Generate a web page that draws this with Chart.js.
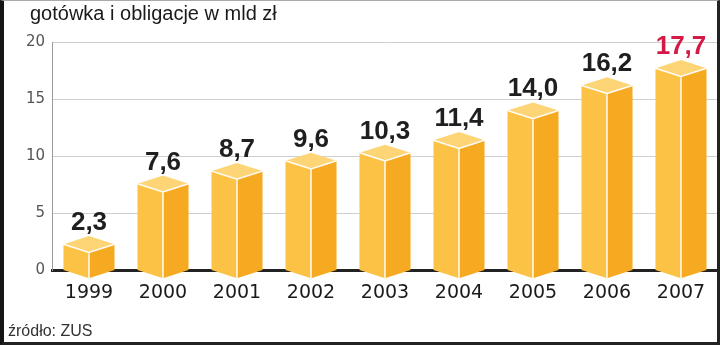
<!DOCTYPE html>
<html>
<head>
<meta charset="utf-8">
<script src="https://cdn.jsdelivr.net/npm/chart.js@4/dist/chart.umd.min.js"></script>
<style>
  html, body { margin: 0; padding: 0; background: #fff; }
  #wrap { position: relative; width: 720px; height: 345px; overflow: hidden; background: #fff; }
  #c { position: absolute; left: 0; top: 0; }
  #title { position: absolute; left: 30px; top: 2px; font: 20px "Liberation Sans", Arial, sans-serif; line-height: 22px; color: #1a1a1a; white-space: nowrap; }
  #source { position: absolute; left: 8px; top: 323px; font: 16px "Liberation Sans", Arial, sans-serif; line-height: 16px; color: #333; white-space: nowrap; }
  #frame { position: absolute; left: 0; top: 0; width: 720px; height: 345px; box-sizing: border-box;
    border-left: 4px solid #151515; border-right: 3px solid #222; border-bottom: 3px solid #222; border-top: 1px solid #aaa; pointer-events: none; }
</style>
</head>
<body>
<div id="wrap">
  <canvas id="c" width="720" height="345"></canvas>
  <div id="title">gotówka i obligacje w mld zł</div>
  <div id="source">źródło: ZUS</div>
  <div id="frame"></div>
</div>
<script>
const categories = ['1999', '2000', '2001', '2002', '2003', '2004', '2005', '2006', '2007'];
const values = [2.3, 7.6, 8.7, 9.6, 10.3, 11.4, 14.0, 16.2, 17.7];
const valueLabels = ['2,3', '7,6', '8,7', '9,6', '10,3', '11,4', '14,0', '16,2', '17,7'];
const yTicks = [0, 5, 10, 15, 20];
const highlightIndex = 8;

const box3d = {
  id: 'box3d',
  afterDatasetsDraw(chart) {
    const ctx = chart.ctx;
    const meta = chart.getDatasetMeta(0);
    ctx.save();
    meta.data.forEach((bar, i) => {
      const p = bar.getProps(['x', 'y', 'base', 'width'], true);
      const cx = p.x, vy = p.y, base = p.base, w = p.width;
      const x0 = cx - w / 2, x1 = cx + w / 2, d = w * 0.16;
      // left face
      ctx.beginPath();
      ctx.moveTo(x0, vy); ctx.lineTo(cx, vy + d); ctx.lineTo(cx, base + d); ctx.lineTo(x0, base); ctx.closePath();
      ctx.fillStyle = '#fbc245'; ctx.fill();
      // right face
      ctx.beginPath();
      ctx.moveTo(cx, vy + d); ctx.lineTo(x1, vy); ctx.lineTo(x1, base); ctx.lineTo(cx, base + d); ctx.closePath();
      ctx.fillStyle = '#f6aa22'; ctx.fill();
      // top face
      ctx.beginPath();
      ctx.moveTo(x0, vy); ctx.lineTo(cx, vy - d); ctx.lineTo(x1, vy); ctx.lineTo(cx, vy + d); ctx.closePath();
      ctx.fillStyle = '#fdd577'; ctx.fill();
      // white edges
      ctx.beginPath();
      ctx.moveTo(x0, vy); ctx.lineTo(cx, vy + d); ctx.lineTo(x1, vy);
      ctx.moveTo(cx, vy + d); ctx.lineTo(cx, base + d);
      ctx.strokeStyle = 'rgba(255,255,255,0.95)'; ctx.lineWidth = 1.5; ctx.stroke();
      // value label
      ctx.font = 'bold 26px "Liberation Sans", Arial, sans-serif';
      ctx.textAlign = 'center'; ctx.textBaseline = 'alphabetic';
      ctx.fillStyle = i === highlightIndex ? '#d41a46' : '#1f1f1f';
      ctx.fillText(valueLabels[i], cx, vy - d - 6);
    });
    ctx.restore();
  }
};

new Chart(document.getElementById('c'), {
  type: 'bar',
  data: {
    labels: categories,
    datasets: [{
      data: values,
      backgroundColor: 'rgba(0,0,0,0)',
      borderWidth: 0,
      barPercentage: 0.69,
      categoryPercentage: 1.0
    }]
  },
  options: {
    responsive: false,
    animation: false,
    devicePixelRatio: 1,
    layout: { padding: { left: 0, right: 2, top: 42, bottom: 0 } },
    plugins: { legend: { display: false }, tooltip: { enabled: false }, title: { display: false } },
    scales: {
      x: {
        grid: { display: false, drawTicks: false },
        border: { display: true, color: '#222', width: 3 },
        ticks: { padding: 11, color: '#1a1a1a', font: { family: '"DejaVu Sans", sans-serif', size: 19 } },
        afterFit(s) { s.height = 74.5; }
      },
      y: {
        min: 0, max: 20,
        afterBuildTicks(s) { s.ticks = yTicks.map(v => ({ value: v })); },
        ticks: { padding: 7, color: '#555', font: { family: '"DejaVu Sans", sans-serif', size: 15 }, callback: v => String(v) },
        grid: { color: '#cfcfcf', lineWidth: 1, drawTicks: false },
        border: { display: true, color: '#9a9a9a', width: 1 },
        afterFit(s) { s.width = 52; }
      }
    }
  },
  plugins: [box3d]
});
</script>
</body>
</html>
